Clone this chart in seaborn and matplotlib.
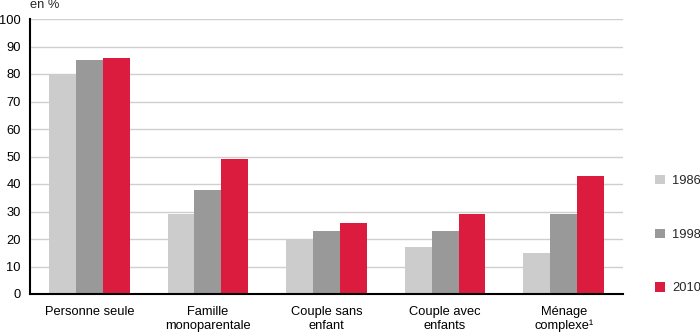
import matplotlib
matplotlib.use("Agg")
import matplotlib.pyplot as plt
import seaborn as sns
import pandas as pd

categories = ["Personne seule", "Famille\nmonoparentale", "Couple sans\nenfant",
              "Couple avec\nenfants", "Ménage\ncomplexe¹"]
years = ["1986", "1998", "2010"]
v1986 = [80, 29, 20, 17, 15]
v1998 = [85, 38, 23, 23, 29]
v2010 = [86, 49, 26, 29, 43]
yticks = list(range(0, 101, 10))
colors = ["#cccccc", "#999999", "#dc1c3f"]

rows = []
for yr, vals in zip(years, [v1986, v1998, v2010]):
    for c, v in zip(categories, vals):
        rows.append({"cat": c, "year": yr, "val": v})
df = pd.DataFrame(rows)

sns.set_style("white")
plt.rcParams["font.family"] = ["Liberation Sans", "DejaVu Sans"]
FS = 9.3

fig = plt.figure(figsize=(7, 3.33), dpi=100)
ax = fig.add_axes([30/700, 1-294/333, (623-30)/700, (294-19)/333])

sns.barplot(data=df, x="cat", y="val", hue="year", palette=colors,
            width=0.68, saturation=1, linewidth=0, ax=ax, legend=True)

ax.set_ylim(0, 100)
ax.set_yticks(yticks)
ax.set_xlim(-0.5, 4.5)
ax.set_xlabel("")
ax.set_ylabel("")
ax.yaxis.grid(True, color="#cfcfcf", linewidth=1)
ax.set_axisbelow(True)
for s in ["top", "right"]:
    ax.spines[s].set_visible(False)
for s in ["left", "bottom"]:
    ax.spines[s].set_color("black")
    ax.spines[s].set_linewidth(1.5)
ax.tick_params(axis="both", length=0, labelsize=FS, colors="black")
ax.tick_params(axis="x", pad=8.5)
ax.tick_params(axis="y", pad=6.5)

ax.text(0.0, 1.03, "en %", transform=ax.transAxes, fontsize=FS,
        ha="left", va="bottom")

leg = ax.legend(loc="upper left", bbox_to_anchor=(655/700, 1-175/333),
                bbox_transform=fig.transFigure, frameon=False, borderpad=0,
                borderaxespad=0, fontsize=FS, handlelength=0.75,
                handleheight=0.75, handletextpad=0.6, labelspacing=3.2)

fig.savefig("out.png", dpi=100)
